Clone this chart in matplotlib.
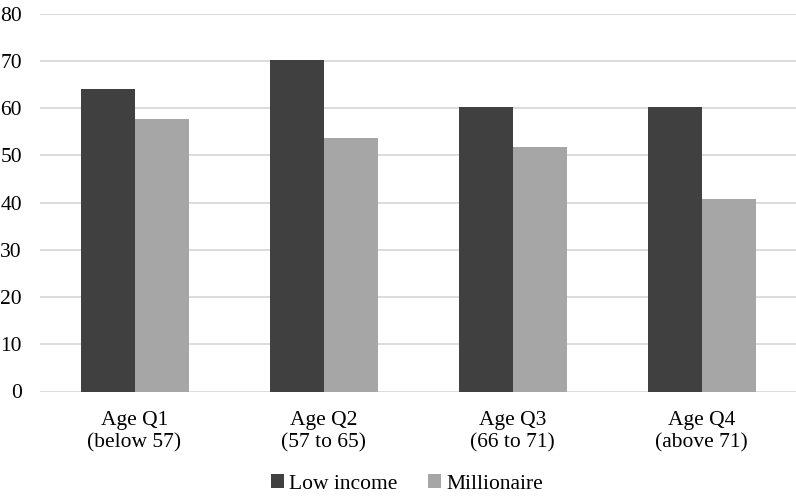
import matplotlib.pyplot as plt
import numpy as np
from matplotlib.patches import Patch

categories = ['Age Q1\n(below 57)', 'Age Q2\n(57 to 65)', 'Age Q3\n(66 to 71)', 'Age Q4\n(above 71)']
low_income = [64.0, 70.3, 60.3, 60.3]
millionaire = [57.8, 53.7, 51.7, 40.8]
series_names = ['Low income', 'Millionaire']
colors = ['#404040', '#a6a6a6']

plt.rcParams['font.family'] = ['Liberation Serif', 'DejaVu Serif']

fig = plt.figure(figsize=(7.96, 4.97), dpi=100)
ax = fig.add_axes([40 / 796, 1 - 391.5 / 497, 756 / 796, (391.5 - 13.7) / 497])

x = np.arange(len(categories))
w = 1 / 3.5
ax.bar(x - w / 2, low_income, w, color=colors[0], zorder=3)
ax.bar(x + w / 2, millionaire, w, color=colors[1], zorder=3)

ax.set_xlim(-0.5, len(categories) - 0.5)
ax.set_ylim(0, 80)
ax.set_yticks(range(0, 81, 10))
ax.yaxis.grid(True, color='#d9d9d9', linewidth=1.3, zorder=0)
ax.set_axisbelow(True)
for s in ax.spines.values():
    s.set_visible(False)
ax.tick_params(axis='both', length=0, labelsize=15.5)
ax.tick_params(axis='y', pad=13)
ax.tick_params(axis='x', pad=14)
ax.set_xticks(x)
ax.set_xticklabels(categories, linespacing=1.2)

handles = [Patch(facecolor=c, edgecolor='none') for c in colors]
fig.legend(handles, series_names, loc='center', bbox_to_anchor=(407 / 796, 1 - 484 / 497),
           ncol=2, frameon=False, fontsize=15.5, handlelength=0.6, handleheight=0.6,
           handletextpad=0.25, columnspacing=1.4)

fig.savefig('out.png', dpi=100)
